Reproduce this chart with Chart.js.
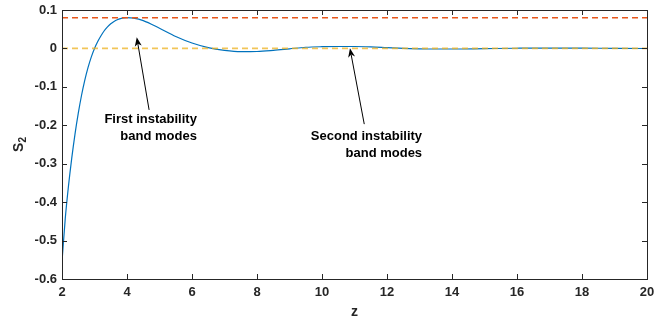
<!DOCTYPE html>
<html><head><meta charset="utf-8">
<script src="https://cdn.jsdelivr.net/npm/chart.js@4/dist/chart.umd.min.js"></script>
<style>html,body{margin:0;padding:0;background:#fff}#wrap{width:654px;height:320px;position:relative}</style>
</head><body><div id="wrap"><canvas id="c" width="654" height="320"></canvas></div>
<script>
// ---- data ----
const zValues  = [2.0, 2.1, 2.2, 2.3, 2.4, 2.5, 2.6, 2.7, 2.8, 2.9, 3.0, 3.1, 3.2, 3.3, 3.4, 3.5, 3.6, 3.7, 3.8, 3.9, 4.0, 4.1, 4.2, 4.5, 5.0, 5.5, 6.0, 6.5, 7.0, 7.5, 8.0, 8.5, 9.0, 9.5, 10.0, 10.5, 11.0, 11.5, 12.0, 12.5, 13.0, 13.5, 14.0, 15.0, 16.0, 17.0, 18.0, 19.0, 20.0];
const s2Values = [-0.555, -0.443, -0.3575, -0.2855, -0.223, -0.169, -0.1225, -0.083, -0.05, -0.0225, 0.0, 0.018, 0.033, 0.046, 0.056, 0.064, 0.070, 0.0745, 0.0775, 0.0793, 0.08, 0.0797, 0.079, 0.0725, 0.0525, 0.031, 0.014, 0.002, -0.005, -0.0085, -0.008, -0.005, -0.001, 0.003, 0.0045, 0.005, 0.005, 0.004, 0.002, 0.0, -0.001, -0.0015, -0.0015, -0.0005, 0.0005, 0.001, 0.0008, 0.0002, -0.0002];
const upperLevel = 0.08;
const zeroLevel = 0;
const xTickValues = [2, 4, 6, 8, 10, 12, 14, 16, 18, 20];
const yTickValues = [-0.6, -0.5, -0.4, -0.3, -0.2, -0.1, 0, 0.1];
const xTitle = 'z';
const yTitleMain = 'S';
const yTitleSub = '2';
const noteLabels = [['First instability', 'band modes'], ['Second instability', 'band modes']];
const noteHeads = [[4.30, 0.029], [10.86, 0.0005]];
const noteTails = [[4.68, -0.160], [11.30, -0.197]];
const noteTextAnchors = [[6.15, -0.194], [13.08, -0.2385]];

const axisColor = '#262626';
const FONT = '"Liberation Sans", Arial, Helvetica, sans-serif';

const deco = {
  id: 'deco',
  afterDraw(chart) {
    const ctx = chart.ctx, xs = chart.scales.x, ys = chart.scales.y, a = chart.chartArea;
    ctx.save();
    // box
    ctx.strokeStyle = axisColor; ctx.lineWidth = 1;
    ctx.strokeRect(Math.round(a.left) + 0.5, Math.round(a.top) + 0.5, Math.round(a.right - a.left), Math.round(a.bottom - a.top));
    // inward ticks
    const tl = 5;
    ctx.beginPath();
    xTickValues.forEach(v => {
      const px = Math.round(xs.getPixelForValue(v)) + 0.5;
      ctx.moveTo(px, a.bottom); ctx.lineTo(px, a.bottom - tl);
      ctx.moveTo(px, a.top); ctx.lineTo(px, a.top + tl);
    });
    yTickValues.forEach(v => {
      const py = Math.round(ys.getPixelForValue(v)) + 0.5;
      ctx.moveTo(a.left, py); ctx.lineTo(a.left + tl, py);
      ctx.moveTo(a.right, py); ctx.lineTo(a.right - tl, py);
    });
    ctx.stroke();
    // axis titles
    ctx.fillStyle = axisColor;
    ctx.font = 'bold 14px ' + FONT;
    ctx.textAlign = 'center'; ctx.textBaseline = 'alphabetic';
    ctx.fillText(xTitle, (a.left + a.right) / 2, 316);
    ctx.save();
    ctx.translate(23, (a.top + a.bottom) / 2);
    ctx.rotate(-Math.PI / 2);
    ctx.font = 'bold 14px ' + FONT;
    const wS = ctx.measureText(yTitleMain).width;
    ctx.font = 'bold 10px ' + FONT;
    const w2 = ctx.measureText(yTitleSub).width;
    const start = -(wS + w2) / 2;
    ctx.textAlign = 'left';
    ctx.font = 'bold 14px ' + FONT;
    ctx.fillText(yTitleMain, start, 0);
    ctx.font = 'bold 10px ' + FONT;
    ctx.fillText(yTitleSub, start + wS, 3);
    ctx.restore();
    // annotations
    ctx.strokeStyle = '#000'; ctx.fillStyle = '#000'; ctx.lineWidth = 1;
    noteLabels.forEach((lines, i) => {
      const hx = xs.getPixelForValue(noteHeads[i][0]), hy = ys.getPixelForValue(noteHeads[i][1]);
      const tx = xs.getPixelForValue(noteTails[i][0]), ty = ys.getPixelForValue(noteTails[i][1]);
      const ang = Math.atan2(hy - ty, hx - tx);
      const L = 9, W = 3.5, back = 6.5;
      const bx = hx - Math.cos(ang) * back, by = hy - Math.sin(ang) * back;
      ctx.beginPath(); ctx.moveTo(tx, ty); ctx.lineTo(bx, by); ctx.stroke();
      const px = -Math.sin(ang), py = Math.cos(ang);
      const cx = hx - Math.cos(ang) * L, cy = hy - Math.sin(ang) * L;
      ctx.beginPath();
      ctx.moveTo(hx, hy);
      ctx.lineTo(cx + px * W, cy + py * W);
      ctx.lineTo(bx, by);
      ctx.lineTo(cx - px * W, cy - py * W);
      ctx.closePath(); ctx.fill();
      const ax = xs.getPixelForValue(noteTextAnchors[i][0]), ay = ys.getPixelForValue(noteTextAnchors[i][1]);
      ctx.font = 'bold 13px ' + FONT;
      ctx.textAlign = 'right'; ctx.textBaseline = 'alphabetic';
      lines.forEach((t, k) => ctx.fillText(t, ax, ay + k * 17));
    });
    ctx.restore();
  }
};

const curve = zValues.map((z, i) => ({ x: z, y: s2Values[i] }));
const zMin = xTickValues[0], zMax = xTickValues[xTickValues.length - 1];

new Chart(document.getElementById('c'), {
  type: 'line',
  data: {
    datasets: [
      { data: curve, borderColor: '#0072BD', borderWidth: 1.2, pointRadius: 0, cubicInterpolationMode: 'monotone', order: 3 },
      { data: [{ x: zMin, y: upperLevel }, { x: zMax, y: upperLevel }], borderColor: '#E8561A', borderWidth: 1.5, borderDash: [6, 4], pointRadius: 0, order: 2 },
      { data: [{ x: zMin, y: zeroLevel }, { x: zMax, y: zeroLevel }], borderColor: 'rgba(237,177,32,0.75)', borderWidth: 1.8, borderDash: [6, 4], pointRadius: 0, order: 1 }
    ]
  },
  options: {
    responsive: false, animation: false, devicePixelRatio: 1,
    layout: { padding: { top: 10, right: 7, left: 0, bottom: 0 } },
    plugins: { legend: { display: false }, tooltip: { enabled: false } },
    scales: {
      x: {
        type: 'linear', min: zMin, max: zMax,
        afterFit: s => { s.height = 41; s.paddingLeft = 0; s.paddingRight = 0; },
        afterBuildTicks: s => { s.ticks = xTickValues.map(v => ({ value: v })); },
        grid: { display: false, drawTicks: false }, border: { display: false },
        ticks: { padding: 6, color: axisColor, font: { family: FONT, size: 13, weight: 'bold' }, maxRotation: 0, callback: v => String(v) }
      },
      y: {
        type: 'linear', min: -0.6, max: 0.1,
        afterFit: s => { s.width = 62; s.paddingTop = 0; s.paddingBottom = 0; },
        afterBuildTicks: s => { s.ticks = yTickValues.map(v => ({ value: v })); },
        grid: { display: false, drawTicks: false }, border: { display: false },
        ticks: { padding: 5, color: axisColor, font: { family: FONT, size: 13, weight: 'bold' }, callback: v => Math.abs(v) < 1e-9 ? '0' : Number(v).toFixed(1) }
      }
    }
  },
  plugins: [deco]
});
</script></body></html>
